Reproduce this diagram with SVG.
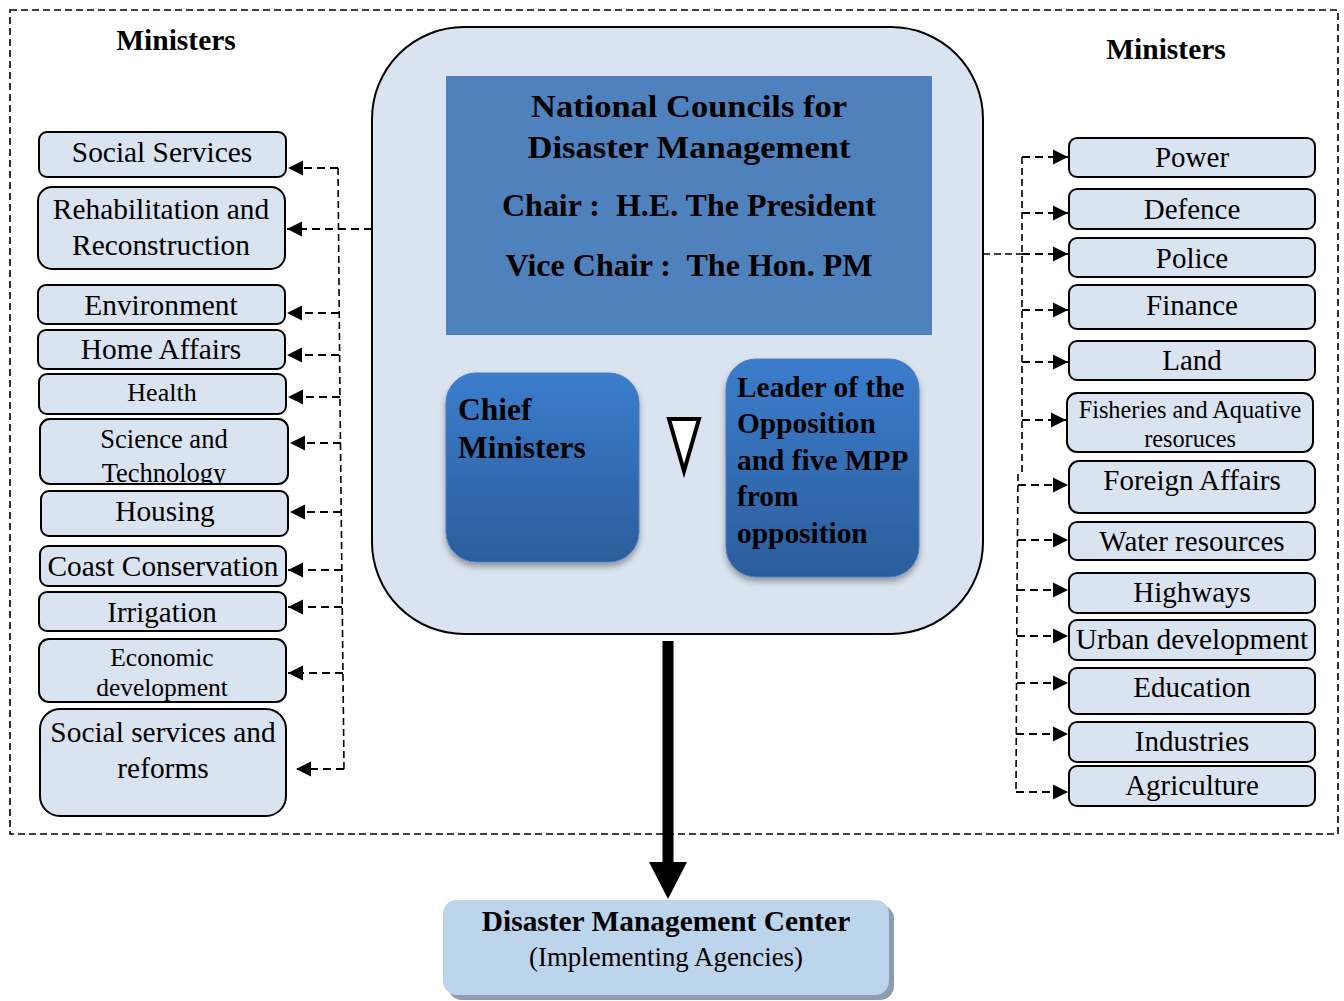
<svg xmlns="http://www.w3.org/2000/svg" width="1344" height="1001" viewBox="0 0 1344 1001">
<style>
text{font-family:"Liberation Serif","Times New Roman",serif;fill:#000}
.b{font-weight:bold}
.m{text-anchor:middle}
.box{fill:#dae3f0;stroke:#000;stroke-width:2}
.dl{fill:none;stroke:#000;stroke-width:2.2;stroke-dasharray:8 5}
.dv{fill:none;stroke:#000;stroke-width:1.6;stroke-dasharray:7 4}
</style>
<defs>
<marker id="ah" viewBox="0 0 10 10" refX="10" refY="5" markerWidth="7" markerHeight="7" markerUnits="strokeWidth" orient="auto"><path d="M0,0L10,5L0,10z" fill="#000"/></marker>
<linearGradient id="bg" x1="0" y1="0" x2="0" y2="1"><stop offset="0" stop-color="#3b7dcc"/><stop offset="1" stop-color="#2c5d9c"/></linearGradient>
<filter id="sh" x="-20%" y="-20%" width="140%" height="150%"><feDropShadow dx="0" dy="4" stdDeviation="3" flood-color="#000" flood-opacity="0.35"/></filter>
<clipPath id="cst"><rect x="40" y="419" width="248" height="64"/></clipPath>
</defs>
<rect x="10" y="10" width="1328" height="824" fill="none" stroke="#000" stroke-width="1.6" stroke-dasharray="7 4"/>
<text class="b m" x="176" y="50" font-size="29.5">Ministers</text>
<text class="b m" x="1166" y="59" font-size="29.5">Ministers</text>

<g id="council">
<rect x="372" y="27" width="611" height="607" rx="92" fill="#dae3f0" stroke="#000" stroke-width="2"/>
<rect x="446" y="76" width="486" height="259" fill="#4f81bd"/>
<text class="b m" x="689" y="117" font-size="32" textLength="316" lengthAdjust="spacingAndGlyphs">National Councils for</text>
<text class="b m" x="689" y="158" font-size="32" textLength="323" lengthAdjust="spacingAndGlyphs">Disaster Management</text>
<text class="b m" x="689" y="216" font-size="31" textLength="374" lengthAdjust="spacingAndGlyphs" xml:space="preserve">Chair :  H.E. The President</text>
<text class="b m" x="689" y="276" font-size="31" textLength="367" lengthAdjust="spacingAndGlyphs" xml:space="preserve">Vice Chair :  The Hon. PM</text>
</g>
<g id="chief">
<rect x="446" y="373" width="193" height="189" rx="30" fill="url(#bg)" stroke="#4a7fc0" stroke-width="1" filter="url(#sh)"/>
<text class="b" x="458" y="420" font-size="31.5">Chief</text>
<text class="b" x="458" y="458" font-size="31.5">Ministers</text>
</g>
<g id="triangle">
<path d="M669,419L699,419L684,471z" fill="#fff" stroke="#000" stroke-width="4" stroke-linejoin="miter"/>
</g>
<g id="leader">
<rect x="726" y="359" width="193" height="218" rx="30" fill="url(#bg)" stroke="#4a7fc0" stroke-width="1" filter="url(#sh)"/>
<text class="b" x="737" y="397" font-size="29.4">Leader of the</text>
<text class="b" x="737" y="433" font-size="29.4">Opposition</text>
<text class="b" x="737" y="470" font-size="29.4">and five MPP</text>
<text class="b" x="737" y="506" font-size="29.4">from</text>
<text class="b" x="737" y="543" font-size="29.4">opposition</text>
</g>

<g id="dmc">
<rect x="448" y="905" width="446" height="95" rx="14" fill="#8e9cb0"/>
<rect x="443" y="900" width="446" height="95" rx="14" fill="#bcd4ec"/>
<text class="b m" x="666" y="931" font-size="29.4">Disaster Management Center</text>
<text class="m" x="666" y="966" font-size="26.9">(Implementing Agencies)</text>
</g>

<g id="left-ministers">
<g id="l1"><rect class="box" x="39" y="132" width="247" height="45" rx="8"/><text class="m" x="162" y="162" font-size="29.4">Social Services</text></g>
<g id="l2"><rect class="box" x="38" y="187" width="247" height="82" rx="14"/><text class="m" x="161" y="219" font-size="29.4">Rehabilitation and</text><text class="m" x="161" y="255" font-size="29.4">Reconstruction</text></g>
<g id="l3"><rect class="box" x="38" y="285" width="247" height="39" rx="8"/><text class="m" x="161" y="315" font-size="29.4">Environment</text></g>
<g id="l4"><rect class="box" x="38" y="330" width="247" height="39" rx="8"/><text class="m" x="161" y="359" font-size="29.4">Home Affairs</text></g>
<g id="l5"><rect class="box" x="39" y="374" width="247" height="40" rx="8"/><text class="m" x="162" y="401" font-size="26">Health</text></g>
<g id="l6"><rect class="box" x="40" y="419" width="248" height="65" rx="10"/><text class="m" x="164" y="448" font-size="26.5">Science and</text><text class="m" x="164" y="482" font-size="26.5" clip-path="url(#cst)">Technology</text></g>
<g id="l7"><rect class="box" x="41" y="491" width="247" height="45" rx="8"/><text class="m" x="165" y="521" font-size="29.4">Housing</text></g>
<g id="l8"><rect class="box" x="40" y="546" width="246" height="40" rx="8"/><text class="m" x="163" y="576" font-size="29.4">Coast Conservation</text></g>
<g id="l9"><rect class="box" x="39" y="592" width="247" height="39" rx="8"/><text class="m" x="162" y="622" font-size="29">Irrigation</text></g>
<g id="l10"><rect class="box" x="39" y="639" width="247" height="63" rx="10"/><text class="m" x="162" y="666" font-size="25.5">Economic</text><text class="m" x="162" y="696" font-size="25.5">development</text></g>
<g id="l11"><rect class="box" x="40" y="709" width="246" height="107" rx="20"/><text class="m" x="163" y="742" font-size="29.4">Social services and</text><text class="m" x="163" y="778" font-size="29.4">reforms</text></g>
</g>

<g id="right-ministers">
<g id="r1"><rect class="box" x="1069" y="138" width="246" height="39" rx="8"/><text class="m" x="1192" y="167" font-size="29">Power</text></g>
<g id="r2"><rect class="box" x="1069" y="189" width="246" height="40" rx="8"/><text class="m" x="1192" y="219" font-size="29">Defence</text></g>
<g id="r3"><rect class="box" x="1069" y="238" width="246" height="39" rx="8"/><text class="m" x="1192" y="268" font-size="29">Police</text></g>
<g id="r4"><rect class="box" x="1069" y="285" width="246" height="44" rx="8"/><text class="m" x="1192" y="315" font-size="29">Finance</text></g>
<g id="r5"><rect class="box" x="1069" y="341" width="246" height="39" rx="8"/><text class="m" x="1192" y="370" font-size="29">Land</text></g>
<g id="r6"><rect class="box" x="1067" y="393" width="246" height="59" rx="10"/><text class="m" x="1190" y="418" font-size="24.3">Fisheries and Aquative</text><text class="m" x="1190" y="447" font-size="24.3">resoruces</text></g>
<g id="r7"><rect class="box" x="1069" y="461" width="246" height="52" rx="10"/><text class="m" x="1192" y="490" font-size="29">Foreign Affairs</text></g>
<g id="r8"><rect class="box" x="1069" y="522" width="246" height="38" rx="8"/><text class="m" x="1192" y="551" font-size="29">Water resources</text></g>
<g id="r9"><rect class="box" x="1069" y="573" width="246" height="40" rx="8"/><text class="m" x="1192" y="602" font-size="29">Highways</text></g>
<g id="r10"><rect class="box" x="1069" y="620" width="246" height="40" rx="8"/><text class="m" x="1192" y="649" font-size="29.4">Urban development</text></g>
<g id="r11"><rect class="box" x="1069" y="668" width="246" height="46" rx="8"/><text class="m" x="1192" y="697" font-size="29">Education</text></g>
<g id="r12"><rect class="box" x="1069" y="722" width="246" height="40" rx="8"/><text class="m" x="1192" y="751" font-size="29">Industries</text></g>
<g id="r13"><rect class="box" x="1069" y="766" width="246" height="40" rx="8"/><text class="m" x="1192" y="795" font-size="29">Agriculture</text></g>
</g>

<g id="connectors">
<path class="dv" d="M338,168L340,400L344,769"/>
<path class="dl" d="M338,168L288,168" marker-end="url(#ah)"/>
<path class="dl" d="M372,229L287,229" marker-end="url(#ah)"/>
<path class="dl" d="M339,313L287,313" marker-end="url(#ah)"/>
<path class="dl" d="M339,355L287,355" marker-end="url(#ah)"/>
<path class="dl" d="M340,397L288,397" marker-end="url(#ah)"/>
<path class="dl" d="M341,443L290,443" marker-end="url(#ah)"/>
<path class="dl" d="M341,512L290,512" marker-end="url(#ah)"/>
<path class="dl" d="M342,570L288,570" marker-end="url(#ah)"/>
<path class="dl" d="M342,607L288,607" marker-end="url(#ah)"/>
<path class="dl" d="M343,673L288,673" marker-end="url(#ah)"/>
<path class="dl" d="M344,769L296,769" marker-end="url(#ah)"/>

<path class="dv" d="M1022,157L1022,474"/>
<path class="dv" d="M1018,474L1017,590L1016,792"/>
<path class="dv" d="M983,254L1022,254"/>
<path class="dl" d="M1022,157L1068,157" marker-end="url(#ah)"/>
<path class="dl" d="M1022,213L1068,213" marker-end="url(#ah)"/>
<path class="dl" d="M1022,254L1068,254" marker-end="url(#ah)"/>
<path class="dl" d="M1022,310L1068,310" marker-end="url(#ah)"/>
<path class="dl" d="M1022,362L1068,362" marker-end="url(#ah)"/>
<path class="dl" d="M1022,420L1066,420" marker-end="url(#ah)"/>
<path class="dl" d="M1018,485L1068,485" marker-end="url(#ah)"/>
<path class="dl" d="M1018,540L1068,540" marker-end="url(#ah)"/>
<path class="dl" d="M1017,590L1068,590" marker-end="url(#ah)"/>
<path class="dl" d="M1017,636L1068,636" marker-end="url(#ah)"/>
<path class="dl" d="M1017,683L1068,683" marker-end="url(#ah)"/>
<path class="dl" d="M1016,734L1068,734" marker-end="url(#ah)"/>
<path class="dl" d="M1016,792L1068,792" marker-end="url(#ah)"/>

<path d="M668,641L668,864" stroke="#000" stroke-width="11" fill="none"/>
<path d="M649,862L687,862L668,899z" fill="#000"/>
</g>
</svg>
